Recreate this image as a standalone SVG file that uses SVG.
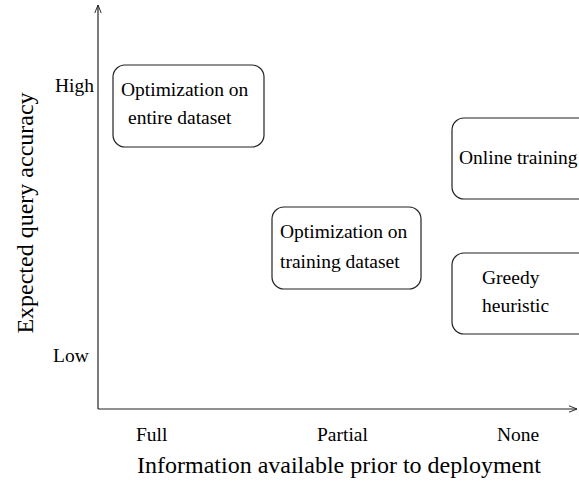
<svg xmlns="http://www.w3.org/2000/svg" width="579" height="484" viewBox="0 0 579 484">
<style>
text{font-family:"Liberation Serif","Times New Roman",serif;fill:#000}
.lab{font-size:19.5px}
.title{font-size:24px}
.box{fill:#fff;stroke:#222;stroke-width:1.2}
.axis{stroke:#222;stroke-width:1.2;fill:none}
</style>
<defs>
<marker id="arr" viewBox="0 0 10 10" refX="10" refY="5" markerWidth="8" markerHeight="8" markerUnits="userSpaceOnUse" orient="auto">
<path d="M0,1 L10,5 L0,9" fill="none" stroke="#222" stroke-width="1.2"/>
</marker>
</defs>
<g id="connectors">
<line class="axis" x1="98" y1="409" x2="98" y2="5" marker-end="url(#arr)"/>
<line class="axis" x1="98" y1="409" x2="577" y2="409" marker-end="url(#arr)"/>
</g>
<g id="axis-labels">
<text class="lab" x="55" y="92">High</text>
<text class="lab" x="53" y="362">Low</text>
<text class="title" transform="translate(33,213) rotate(-90)" text-anchor="middle">Expected query accuracy</text>
<text class="lab" x="136" y="441">Full</text>
<text class="lab" x="317" y="441">Partial</text>
<text class="lab" x="497" y="441">None</text>
<text class="title" x="137" y="473">Information available prior to deployment</text>
</g>
<g id="opt-entire">
<rect class="box" x="113" y="65" width="151" height="82" rx="12"/>
<text class="lab" x="121" y="96">Optimization on</text>
<text class="lab" x="128" y="124">entire dataset</text>
</g>
<g id="opt-training">
<rect class="box" x="272" y="207" width="149" height="82" rx="12"/>
<text class="lab" x="280" y="238">Optimization on</text>
<text class="lab" x="280" y="268">training dataset</text>
</g>
<g id="online">
<rect class="box" x="452" y="118" width="140" height="81" rx="12"/>
<text class="lab" x="459" y="164">Online training</text>
</g>
<g id="greedy">
<rect class="box" x="452" y="253" width="140" height="81" rx="12"/>
<text class="lab" x="482" y="284">Greedy</text>
<text class="lab" x="482" y="312">heuristic</text>
</g>
</svg>
